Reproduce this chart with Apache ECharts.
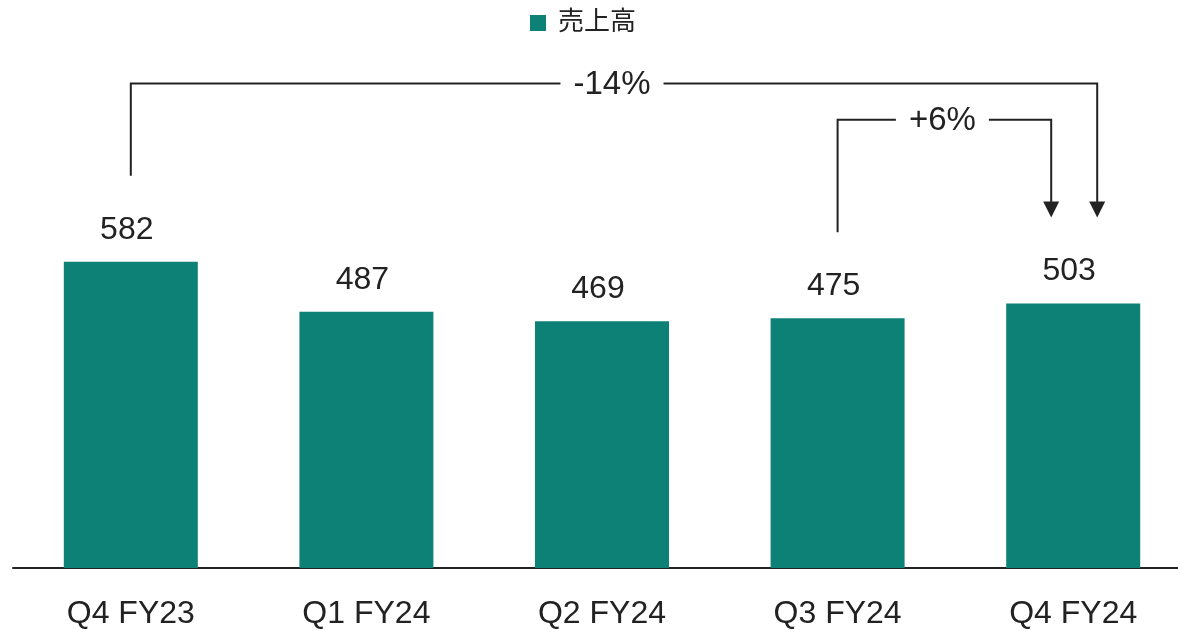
<!DOCTYPE html>
<html>
<head>
<meta charset="utf-8">
<script src="https://cdn.jsdelivr.net/npm/echarts@6/dist/echarts.min.js"></script>
<style>
html,body{margin:0;padding:0;background:#fff;}
#main{width:1178px;height:630px;}
</style>
</head>
<body>
<div id="main"></div>
<script>
// ---- data ----
const categories = ['Q4 FY23', 'Q1 FY24', 'Q2 FY24', 'Q3 FY24', 'Q4 FY24'];
const seriesName = '売上高';
const sales = [582, 487, 469, 475, 503];
// growth brackets: from category index -> to category index
const bracketFrom = [0, 3];
const bracketTo = [4, 4];
const bracketLabels = ['-14%', '+6%'];
const bracketLevels = [921, 852];

const teal = '#0E8176';
const ink = '#222222';
const fontFam = "'Liberation Sans', Arial, 'Noto Sans CJK JP', sans-serif";

const chart = echarts.init(document.getElementById('main'), null, {renderer: 'canvas'});

function renderBracket(params, api) {
  const i = params.dataIndex;
  const fromIdx = bracketFrom[i];
  const toIdx = bracketTo[i];
  const gapAbove = 86;
  const arrowShift = i === 0 ? 24 : -22;
  const fromX = api.coord([fromIdx, 0])[0];
  const fromY = api.coord([fromIdx, sales[fromIdx]])[1] - gapAbove;
  const toX = api.coord([toIdx, 0])[0] + arrowShift;
  const tipY = api.coord([toIdx, sales[toIdx]])[1] - gapAbove;
  const levelY = api.coord([fromIdx, api.value(1)])[1];
  const headH = 16, headW = 8;
  const midX = (fromX + toX) / 2;
  return {
    type: 'group',
    children: [
      {
        type: 'polyline',
        shape: {points: [[fromX, fromY], [fromX, levelY], [toX, levelY], [toX, tipY - headH + 1]]},
        style: {stroke: ink, lineWidth: 2, fill: null}
      },
      {
        type: 'polygon',
        shape: {points: [[toX - headW, tipY - headH], [toX + headW, tipY - headH], [toX, tipY]]},
        style: {fill: ink}
      },
      {
        type: 'text',
        x: midX - 2, y: levelY + 1,
        style: {
          text: bracketLabels[i],
          fill: ink,
          font: '33px ' + fontFam,
          align: 'center',
          verticalAlign: 'middle',
          backgroundColor: '#fff',
          padding: [2, 13]
        }
      }
    ]
  };
}

const option = {
  animation: false,
  backgroundColor: '#fff',
  legend: {
    data: [seriesName],
    top: 5,
    left: 525,
    itemWidth: 16,
    itemHeight: 16,
    icon: 'rect',
    textStyle: {fontSize: 26, color: ink, fontFamily: fontFam, padding: [0, 0, 0, 7]}
  },
  grid: {left: 13, top: 42, bottom: 62, right: -13, outerBoundsMode: 'none', containLabel: false},
  xAxis: {
    type: 'category',
    data: categories,
    axisLine: {lineStyle: {color: ink, width: 2}},
    axisTick: {show: false},
    axisLabel: {fontSize: 32, color: ink, fontFamily: fontFam, margin: 30}
  },
  yAxis: {
    type: 'value',
    min: 0,
    max: 1000,
    show: false,
    splitLine: {show: false}
  },
  series: [
    {
      name: seriesName,
      type: 'bar',
      data: sales,
      barWidth: 134,
      itemStyle: {color: teal},
      label: {
        show: true,
        position: 'top',
        distance: 16,
        offset: [-4, 0],
        fontSize: 32,
        color: ink,
        fontFamily: fontFam
      }
    },
    {
      type: 'custom',
      name: 'brackets',
      renderItem: renderBracket,
      data: bracketFrom.map((f, k) => [f, bracketLevels[k]]),
      encode: {x: 0, y: 1},
      z: 5,
      silent: true
    }
  ]
};
chart.setOption(option);
</script>
</body>
</html>
